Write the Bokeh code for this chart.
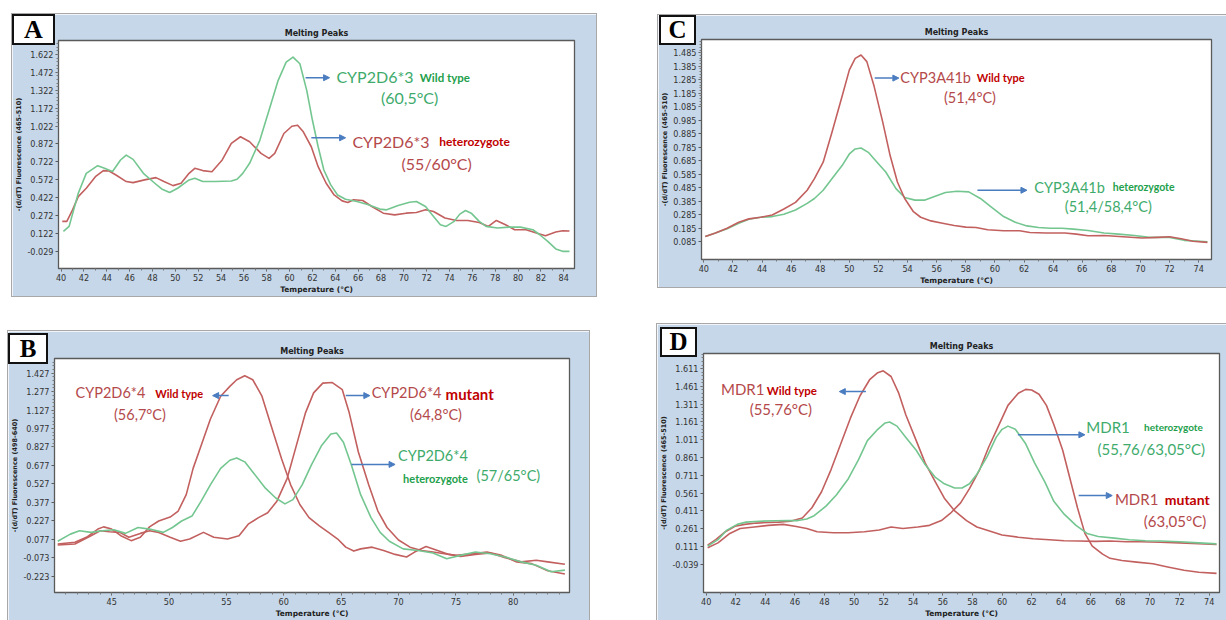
import numpy as np
from bokeh.plotting import figure
from bokeh.layouts import column, row
from bokeh.models import Spacer, Range1d, FixedTicker, PrintfTickFormatter, Label, Arrow, NormalHead, Div, GridBox
from bokeh.embed import file_html
from bokeh.resources import INLINE

# ---------------- data ----------------
# Panel A : CYP2D6*3
A_WT_X = [40.2,40.7,41.5,42.2,43.2,43.8,44.5,45.2,45.7,46.3,47.2,48.2,48.8,49.5,50.2,51.2,51.7,52.4,53.5,54.9,55.4,55.9,56.5,57.4,58.2,59.0,59.7,60.3,60.9,61.5,62.0,62.5,63.0,63.6,64.2,64.9,65.9,66.9,67.9,68.5,69.5,70.5,71.1,71.9,72.6,73.2,73.7,74.4,74.9,75.4,75.9,76.6,77.2,78.2,79.2,80.2,81.3,81.9,82.6,83.3,83.9,84.5]
A_WT_Y = [0.138,0.18,0.458,0.625,0.689,0.667,0.64,0.737,0.778,0.742,0.625,0.542,0.494,0.464,0.5,0.57,0.584,0.556,0.556,0.561,0.575,0.625,0.709,0.904,1.154,1.405,1.558,1.6,1.544,1.321,1.07,0.848,0.653,0.528,0.444,0.408,0.389,0.361,0.325,0.319,0.355,0.383,0.389,0.347,0.263,0.194,0.18,0.222,0.283,0.313,0.291,0.222,0.18,0.166,0.174,0.174,0.152,0.11,0.055,-0.009,-0.029,-0.029]
A_HET_X = [40.1,40.5,41.0,41.5,42.2,43.0,43.7,44.2,44.8,45.7,46.3,47.3,48.3,49.0,49.8,50.5,51.2,51.7,52.4,53.2,54.1,54.9,55.7,56.5,57.5,58.2,58.7,59.5,60.2,60.7,61.2,61.9,62.5,63.2,63.9,64.6,65.1,65.6,66.4,67.2,68.2,69.2,70.2,71.1,71.9,72.6,73.6,74.6,75.6,76.6,77.4,78.1,78.9,79.7,80.7,81.6,82.4,83.3,83.9,84.5]
A_HET_Y = [0.222,0.222,0.319,0.43,0.5,0.597,0.648,0.645,0.611,0.556,0.547,0.57,0.589,0.556,0.522,0.542,0.625,0.667,0.648,0.639,0.737,0.876,0.932,0.89,0.792,0.751,0.792,0.959,1.02,1.029,0.973,0.848,0.681,0.542,0.444,0.394,0.38,0.403,0.397,0.347,0.291,0.277,0.291,0.297,0.319,0.305,0.25,0.23,0.23,0.213,0.18,0.23,0.194,0.152,0.152,0.124,0.102,0.133,0.144,0.141]
A_XTICKS = list(range(40, 85, 2))
A_YTICKS = [1.622,1.472,1.322,1.172,1.022,0.872,0.722,0.572,0.422,0.272,0.122,-0.029]

# Panel C : CYP3A41b
C_WT_X = [40.1,40.8,41.6,42.4,43.1,43.9,44.7,45.5,46.3,47.1,47.6,48.2,48.8,49.5,50.0,50.4,50.8,51.2,51.7,52.3,52.8,53.3,53.8,54.4,54.9,55.6,56.4,57.2,58.0,58.7,59.5,60.6,61.7,62.4,63.5,64.8,65.6,66.4,67.5,68.8,70.1,71.2,72.0,72.8,73.6,74.6]
C_WT_Y = [0.124,0.149,0.185,0.229,0.254,0.266,0.283,0.327,0.376,0.466,0.552,0.674,0.894,1.163,1.358,1.443,1.468,1.419,1.236,0.967,0.723,0.527,0.405,0.307,0.266,0.239,0.222,0.205,0.193,0.19,0.173,0.166,0.166,0.153,0.149,0.149,0.141,0.129,0.131,0.122,0.112,0.117,0.122,0.107,0.088,0.08]
C_HET_X = [40.1,40.8,41.6,42.4,43.1,43.9,44.7,45.5,46.3,47.1,47.6,48.2,48.8,49.5,50.0,50.4,50.8,51.3,51.9,52.5,53.2,53.8,54.5,55.2,55.8,56.6,57.4,58.2,59.0,59.8,60.6,61.4,62.2,63.0,63.8,64.6,65.4,66.4,67.5,68.5,69.6,70.6,72.0,73.0,74.6]
C_HET_Y = [0.124,0.149,0.18,0.222,0.251,0.266,0.271,0.288,0.32,0.369,0.405,0.466,0.552,0.649,0.735,0.772,0.779,0.747,0.674,0.601,0.478,0.412,0.393,0.393,0.417,0.449,0.459,0.454,0.405,0.337,0.271,0.229,0.202,0.19,0.185,0.185,0.178,0.168,0.149,0.141,0.131,0.117,0.117,0.095,0.085]
C_XTICKS = list(range(40, 75, 2))
C_YTICKS = [1.485,1.385,1.285,1.185,1.085,0.985,0.885,0.785,0.685,0.585,0.485,0.385,0.285,0.185,0.085]

# Panel B : CYP2D6*4
B_WT_X = [40.3,41.8,42.8,43.8,44.3,45.0,45.8,46.7,47.5,48.3,49.1,50.1,50.8,51.5,52.1,52.8,53.6,54.5,55.3,55.9,56.6,57.3,58.1,58.9,59.8,60.6,61.4,62.2,63.1,63.9,64.7,65.4,66.1,66.7,67.7,68.7,69.7,70.7,71.4,72.4,73.4,74.4,75.4,76.7,78.0,79.3,80.7,82.0,83.0,84.5]
B_WT_Y = [0.038,0.052,0.092,0.159,0.177,0.159,0.105,0.065,0.092,0.177,0.225,0.257,0.306,0.439,0.653,0.84,1.053,1.24,1.32,1.374,1.406,1.374,1.24,1.0,0.733,0.519,0.359,0.252,0.185,0.132,0.078,0.012,-0.02,-0.002,0.012,-0.015,-0.047,-0.068,-0.028,0.017,-0.015,-0.047,-0.063,-0.047,-0.036,-0.074,-0.108,-0.095,-0.108,-0.127]
B_MUT_X = [40.3,41.8,43.2,44.0,44.8,45.7,46.5,47.5,48.3,49.1,50.1,51.0,51.8,53.0,53.9,55.1,56.1,56.9,57.8,58.6,59.4,60.3,61.1,61.9,62.6,63.4,64.2,65.1,65.7,66.5,67.4,68.2,69.0,70.0,71.0,72.0,73.0,74.0,75.0,76.4,77.7,79.0,80.3,81.6,83.0,84.5]
B_MUT_Y = [0.03,0.038,0.105,0.145,0.137,0.132,0.092,0.124,0.145,0.132,0.092,0.06,0.078,0.132,0.092,0.078,0.105,0.199,0.252,0.292,0.386,0.572,0.84,1.107,1.267,1.347,1.352,1.293,1.107,0.786,0.519,0.306,0.172,0.07,0.012,-0.015,-0.028,-0.042,-0.055,-0.042,-0.028,-0.055,-0.108,-0.122,-0.18,-0.207]
B_HET_X = [40.3,41.4,42.2,43.2,44.2,45.2,46.2,47.3,48.3,49.5,50.3,51.1,52.0,52.8,53.6,54.5,55.3,55.9,56.6,57.4,58.4,59.3,60.1,60.8,61.6,62.4,63.3,64.1,64.6,65.2,65.9,66.7,67.6,68.4,69.2,70.4,71.7,73.0,74.2,75.4,76.7,78.0,79.3,80.7,82.0,83.3,84.5]
B_HET_Y = [0.06,0.118,0.145,0.132,0.145,0.153,0.124,0.172,0.159,0.132,0.172,0.225,0.265,0.386,0.519,0.653,0.719,0.738,0.706,0.612,0.492,0.412,0.364,0.399,0.519,0.679,0.84,0.933,0.941,0.866,0.679,0.439,0.252,0.132,0.06,-0.002,-0.015,-0.036,-0.082,-0.055,-0.028,-0.042,-0.068,-0.108,-0.135,-0.188,-0.175]
B_XTICKS = [45, 50, 55, 60, 65, 70, 75, 80]
B_YTICKS = [1.427,1.277,1.127,0.977,0.827,0.677,0.527,0.377,0.227,0.077,-0.073,-0.223]

# Panel D : MDR1
D_WT_X = [40.1,40.65,41.3,41.95,42.6,43.4,44.2,44.9,45.7,46.5,47.15,47.8,48.45,49.1,49.75,50.4,51.05,51.6,51.97,52.5,53.0,53.5,54.2,54.8,55.5,56.1,56.8,57.6,58.3,59.1,60.0,61.1,62.1,63.2,64.2,65.2,66.3,67.3,68.4,69.4,70.7,72.0,73.3,74.5]
D_WT_Y = [0.123,0.169,0.236,0.282,0.298,0.309,0.314,0.317,0.325,0.352,0.438,0.573,0.762,0.977,1.193,1.382,1.517,1.576,1.592,1.544,1.409,1.22,1.004,0.816,0.654,0.519,0.411,0.33,0.276,0.244,0.209,0.19,0.177,0.169,0.16,0.158,0.155,0.158,0.152,0.152,0.147,0.142,0.136,0.128]
D_HET_X = [40.1,40.8,41.4,42.1,42.7,43.6,44.7,45.5,46.2,46.8,47.3,48.1,48.8,49.6,50.3,50.9,51.6,52.1,52.4,52.9,53.5,54.2,54.8,55.5,56.1,56.8,57.3,57.8,58.3,58.99,59.6,60.0,60.4,60.9,61.6,62.2,62.9,63.5,64.2,65.0,65.75,66.5,67.6,68.6,69.7,70.7,72.0,73.3,74.5]
D_HET_Y = [0.115,0.169,0.25,0.298,0.317,0.325,0.328,0.33,0.33,0.344,0.371,0.452,0.546,0.681,0.843,1.004,1.099,1.153,1.161,1.126,1.031,0.923,0.802,0.694,0.64,0.605,0.605,0.64,0.721,0.869,1.031,1.099,1.126,1.099,0.977,0.816,0.654,0.492,0.384,0.29,0.222,0.196,0.182,0.169,0.16,0.158,0.152,0.142,0.134]
D_MUT_X = [40.1,40.8,41.6,42.3,43.25,44.2,45.2,46.0,46.8,47.5,48.6,49.6,50.7,51.7,52.5,53.3,54.3,55.1,55.9,56.5,57.2,57.8,58.5,59.1,59.8,60.4,61.1,61.6,62.0,62.5,63.0,63.5,64.1,64.6,65.1,65.6,66.1,66.8,67.3,68.1,69.1,70.2,71.2,72.3,73.3,74.5]
D_MUT_Y = [0.101,0.142,0.222,0.263,0.276,0.29,0.298,0.282,0.263,0.236,0.228,0.228,0.236,0.25,0.276,0.263,0.276,0.29,0.33,0.39,0.479,0.6,0.762,0.95,1.139,1.301,1.403,1.436,1.43,1.395,1.301,1.139,0.923,0.681,0.438,0.222,0.115,0.047,0.012,-0.007,-0.02,-0.034,-0.061,-0.088,-0.106,-0.115]
D_XTICKS = list(range(40, 75, 2))
D_YTICKS = [1.611,1.461,1.311,1.161,1.011,0.861,0.711,0.561,0.411,0.261,0.111,-0.039]

# ---------------- styles ----------------
PANEL_BG = "#c6d7e9"
RED_LINE = "#c2605f"
GREEN_LINE = "#74c690"
RED_TXT = "#b4494b"
RED_BOLD = "#c00000"
GREEN_TXT = "#3eab6c"
GREEN_BOLD = "#22a04c"
ARROW_C = "#4a7cc0"
TICK_FONT = "'Liberation Sans Narrow', 'DejaVu Sans Condensed', 'Liberation Sans', sans-serif"
ANN_FONT = "Lato"


def make_panel(w, h, borders, xr, yr, xticks, xminor_step, yticks, yminor_step, ylabel):
    L, R, T, B = borders
    p = figure(width=w, height=h, x_range=Range1d(*xr), y_range=Range1d(*yr),
               output_backend="svg", toolbar_location=None,
               min_border_left=L, min_border_right=R, min_border_top=T, min_border_bottom=B,
               border_fill_color=PANEL_BG, background_fill_color="white",
               title="Melting Peaks", styles={"box-shadow": "0 0 0 1px #a8a8a8"})
    p.grid.visible = False
    p.outline_line_color = "#5a5a5a"
    p.outline_line_width = 1.3
    p.title.align = "center"
    p.title.text_font = "DejaVu Sans"
    p.title.text_font_size = "8px"
    p.title.text_font_style = "bold"
    p.title.text_color = "#222222"
    p.title.standoff = 5

    xminor = list(np.arange(xr[0] // 1, xr[1] + 1, xminor_step))
    p.xaxis.ticker = FixedTicker(ticks=xticks, minor_ticks=xminor)
    y0 = yticks[0]
    ym = [y0 + k * yminor_step for k in range(-20, 200)]
    ym = [v for v in ym if yr[0] <= v <= yr[1]]
    p.yaxis.ticker = FixedTicker(ticks=yticks, minor_ticks=ym)
    p.xaxis.formatter = PrintfTickFormatter(format="%d")
    p.yaxis.formatter = PrintfTickFormatter(format="%.3f")
    p.xaxis.axis_label = "Temperature (°C)"
    p.yaxis.axis_label = ylabel
    for ax in (p.xaxis[0], p.yaxis[0]):
        ax.axis_line_color = "#5a5a5a"
        ax.major_tick_line_color = "#5a5a5a"
        ax.minor_tick_line_color = "#7a7a7a"
        ax.major_tick_out = 3
        ax.major_tick_in = 0
        ax.minor_tick_out = 2
        ax.minor_tick_in = 0
        ax.major_label_text_font = TICK_FONT
        ax.major_label_text_font_size = "9px"
        ax.major_label_text_color = "#333333"
        ax.major_label_standoff = 2
        ax.axis_label_text_font = "DejaVu Sans"
        ax.axis_label_text_font_size = "7.5px"
        ax.axis_label_text_font_style = "bold"
        ax.axis_label_text_color = "#222222"
        ax.axis_label_standoff = 1
    p.yaxis.axis_label_text_font_size = "6.5px"
    return p


def with_letter(p, letter, bw, bh, dx, dy, fs):
    d = Div(text=letter, width=bw, height=bh, margin=(dy, 0, 0, dx),
            styles={"background-color": "white", "border": "2px solid #111111",
                    "box-sizing": "border-box", "position": "relative", "z-index": "10",
                    "font-family": "'Liberation Serif', 'DejaVu Serif', serif",
                    "font-weight": "bold", "font-size": f"{fs}px", "color": "black",
                    "text-align": "center", "line-height": f"{bh - 4}px", "overflow": "hidden"})
    return GridBox(children=[(p, 0, 0), (d, 0, 0)])


def curve(p, xs, ys, color):
    p.line(xs, ys, line_color=color, line_width=1.6, line_join="round")


def txt(p, x, y, s, color, size, bold=False):
    p.add_layout(Label(x=x, y=y, text=s, text_color=color, text_font=ANN_FONT,
                       text_font_size=size, text_font_style="bold" if bold else "normal",
                       text_align="left", text_baseline="middle"))


def arrow(p, x0, y0, x1, y1):
    p.add_layout(Arrow(end=NormalHead(size=6, fill_color=ARROW_C, line_color=ARROW_C),
                       x_start=x0, y_start=y0, x_end=x1, y_end=y1,
                       line_color=ARROW_C, line_width=1.5))


YLAB = "-(d/dT) Fluorescence (465-510)"

# ---- Panel A ----
pA = make_panel(584, 282, (45, 22, 26, 27), (39.77, 84.94), (-0.173, 1.739),
                A_XTICKS, 1, A_YTICKS, 0.03, YLAB)
curve(pA, A_HET_X, A_HET_Y, RED_LINE)
curve(pA, A_WT_X, A_WT_Y, GREEN_LINE)
arrow(pA, 61.4, 1.427, 63.5, 1.427)
txt(pA, 64.1, 1.44, "CYP2D6*3", GREEN_TXT, "16px")
txt(pA, 71.4, 1.43, "Wild type", GREEN_BOLD, "11.5px", True)
txt(pA, 68.0, 1.262, "(60,5°C)", GREEN_TXT, "16px")
arrow(pA, 61.9, 0.923, 64.9, 0.923)
txt(pA, 65.5, 0.89, "CYP2D6*3", RED_TXT, "16px")
txt(pA, 73.1, 0.89, "heterozygote", RED_BOLD, "12px", True)
txt(pA, 69.8, 0.709, "(55/60°C)", RED_TXT, "16px")

# ---- Panel C ----
pC = make_panel(568, 272, (41, 15, 24, 25), (39.84, 74.88), (-0.047, 1.583),
                C_XTICKS, 1, C_YTICKS, 0.02, YLAB)
curve(pC, C_HET_X, C_HET_Y, GREEN_LINE)
curve(pC, C_WT_X, C_WT_Y, RED_LINE)
arrow(pC, 51.74, 1.297, 53.4, 1.297)
txt(pC, 53.5, 1.304, "CYP3A41b", RED_TXT, "14.5px")
txt(pC, 58.75, 1.30, "Wild type", RED_BOLD, "11px", True)
txt(pC, 56.5, 1.155, "(51,4°C)", RED_TXT, "14.5px")
arrow(pC, 58.8, 0.466, 62.2, 0.466)
txt(pC, 62.7, 0.49, "CYP3A41b", GREEN_TXT, "14.5px")
txt(pC, 68.1, 0.49, "heterozygote", GREEN_BOLD, "10.5px", True)
txt(pC, 64.8, 0.344, "(51,4/58,4°C)", GREEN_TXT, "14.5px")

# ---- Panel B ----
pB = make_panel(581, 289, (44, 20, 27, 24), (40.02, 84.9), (-0.357, 1.547),
                B_XTICKS, 1, B_YTICKS, 0.03, "-(d/dT) Fluorescence (498-640)")
curve(pB, B_WT_X, B_WT_Y, RED_LINE)
curve(pB, B_MUT_X, B_MUT_Y, RED_LINE)
curve(pB, B_HET_X, B_HET_Y, GREEN_LINE)
txt(pB, 41.85, 1.267, "CYP2D6*4", RED_TXT, "14.5px")
txt(pB, 48.8, 1.26, "Wild type", RED_BOLD, "11px", True)
arrow(pB, 55.2, 1.245, 53.8, 1.245)
txt(pB, 45.2, 1.088, "(56,7°C)", RED_TXT, "14.5px")
arrow(pB, 65.4, 1.245, 67.5, 1.245)
txt(pB, 67.66, 1.267, "CYP2D6*4", RED_TXT, "14.5px")
txt(pB, 74.1, 1.26, "mutant", RED_BOLD, "15px", True)
txt(pB, 71.0, 1.093, "(64,8°C)", RED_TXT, "14.5px")
arrow(pB, 65.9, 0.685, 69.7, 0.685)
txt(pB, 69.95, 0.759, "CYP2D6*4", GREEN_TXT, "14.5px")
txt(pB, 70.4, 0.572, "heterozygote", GREEN_BOLD, "11px", True)
txt(pB, 76.8, 0.591, "(57/65°C)", GREEN_TXT, "14.5px")

# ---- Panel D ----
pD = make_panel(569, 296, (45, 7, 29, 22), (39.82, 74.7), (-0.276, 1.738),
                D_XTICKS, 1, D_YTICKS, 0.03, YLAB)
curve(pD, D_WT_X, D_WT_Y, RED_LINE)
curve(pD, D_MUT_X, D_MUT_Y, RED_LINE)
curve(pD, D_HET_X, D_HET_Y, GREEN_LINE)
txt(pD, 41.0, 1.441, "MDR1", RED_TXT, "15px")
txt(pD, 44.1, 1.43, "Wild type", RED_BOLD, "11.5px", True)
arrow(pD, 50.8, 1.417, 49.0, 1.417)
txt(pD, 42.94, 1.269, "(55,76°C)", RED_TXT, "15px")
arrow(pD, 61.07, 1.053, 65.6, 1.053)
txt(pD, 65.7, 1.118, "MDR1", GREEN_TXT, "15px")
txt(pD, 69.6, 1.118, "heterozygote", GREEN_BOLD, "10px", True)
txt(pD, 66.46, 0.937, "(55,76/63,05°C)", GREEN_TXT, "15px")
arrow(pD, 65.18, 0.541, 67.45, 0.541)
txt(pD, 67.63, 0.511, "MDR1", RED_TXT, "15px")
txt(pD, 71.0, 0.511, "mutant", RED_BOLD, "14px", True)
txt(pD, 69.58, 0.325, "(63,05°C)", RED_TXT, "15px")

gA = with_letter(pA, "A", 43, 31, 0, 0, 26)
gC = with_letter(pC, "C", 37, 30, 1, 0, 25)
gB = with_letter(pB, "B", 40, 31, 0, 2, 25)
gD = with_letter(pD, "D", 37, 30, 3, 3, 25)

top = row(Spacer(width=12, height=282), gA, Spacer(width=62, height=282),
          column(Spacer(width=568, height=1), gC))
bottom = row(Spacer(width=8, height=296), column(Spacer(width=581, height=7), gB),
             Spacer(width=68, height=296), gD)
layout = column(Spacer(width=1226, height=14), top, Spacer(width=1226, height=28), bottom)

open("out.html", "w").write(file_html(layout, INLINE))
